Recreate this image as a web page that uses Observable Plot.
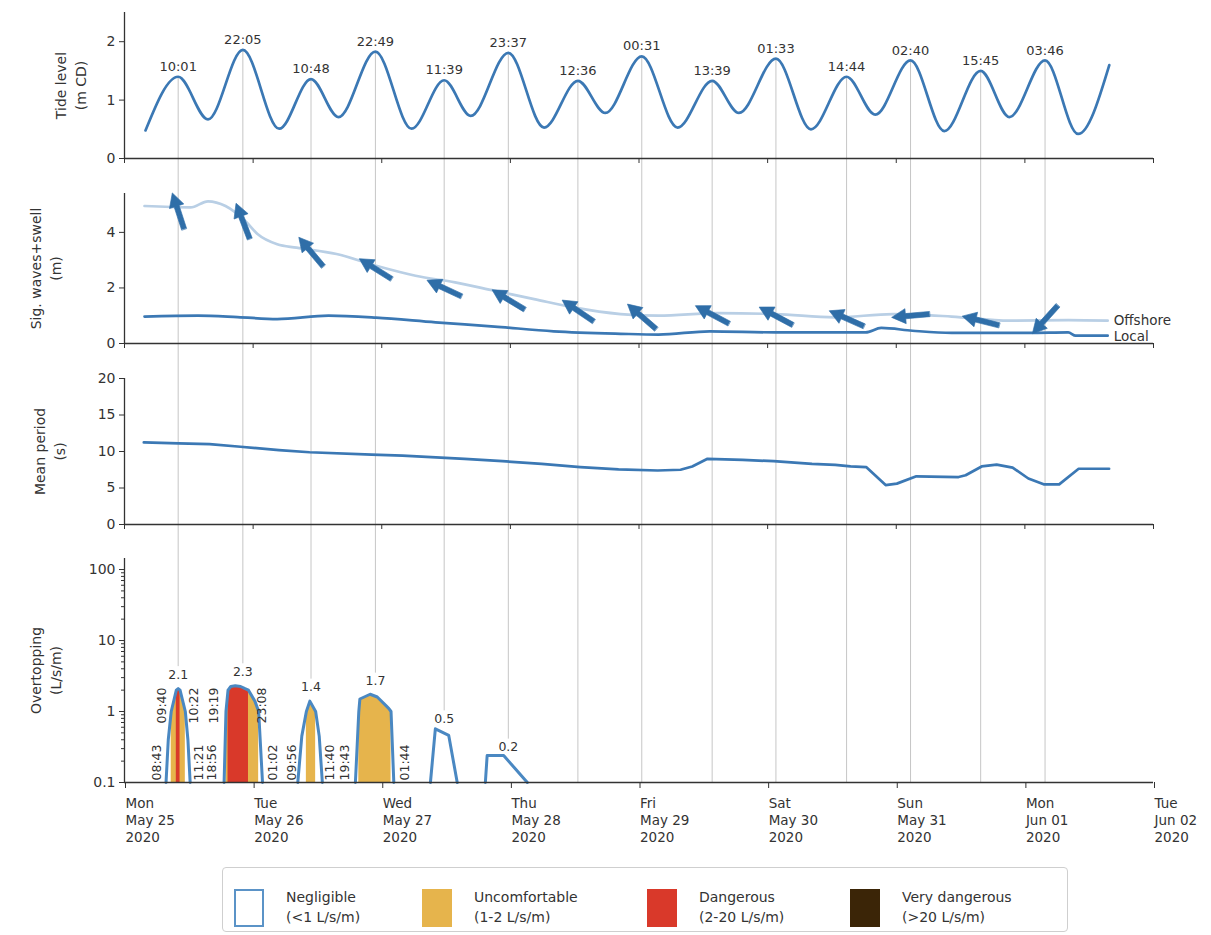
<!DOCTYPE html>
<html>
<head>
<meta charset="utf-8">
<script src="https://cdn.jsdelivr.net/npm/d3@7"></script>
<script src="https://cdn.jsdelivr.net/npm/@observablehq/plot@0.6"></script>
<style>
  body { margin: 0; background: #fff; font-family: "DejaVu Sans", sans-serif; }
  #chart { position: relative; width: 1211px; height: 935px; overflow: hidden; background: #fff; }
  #chart svg { display: block; }
  .legend { position: absolute; left: 222px; top: 867px; width: 846px; height: 65px; border: 1px solid #cfcfcf; border-radius: 4px; box-sizing: border-box; background: #fff; }
  .legend .item { position: absolute; top: 19px; }
  .legend .sw { position: absolute; left: 0; top: 2px; width: 30px; height: 38px; box-sizing: border-box; }
  .legend .tx { position: absolute; left: 52px; top: 0; font-size: 14px; line-height: 20px; color: #333; white-space: nowrap; }
</style>
</head>
<body>
<div id="chart"></div>
<script>
// ---------------- DATA ----------------
// Tide: predicted extremes (H = high tide, L = low tide)
const tideTimes = ["2020-05-25T03:55","2020-05-25T10:01","2020-05-25T15:35","2020-05-25T22:05","2020-05-26T04:52","2020-05-26T10:48","2020-05-26T15:56","2020-05-26T22:49","2020-05-27T05:34","2020-05-27T11:39","2020-05-27T16:36","2020-05-27T23:37","2020-05-28T06:17","2020-05-28T12:36","2020-05-28T17:43","2020-05-29T00:31","2020-05-29T07:12","2020-05-29T13:39","2020-05-29T18:39","2020-05-30T01:33","2020-05-30T08:05","2020-05-30T14:44","2020-05-30T20:05","2020-05-31T02:40","2020-05-31T08:58","2020-05-31T15:45","2020-05-31T21:07","2020-06-01T03:46","2020-06-01T09:56","2020-06-01T15:45"];
const tideLevels = [0.48,1.40,0.67,1.86,0.51,1.36,0.71,1.83,0.51,1.34,0.73,1.81,0.53,1.33,0.78,1.75,0.53,1.33,0.78,1.71,0.50,1.40,0.75,1.68,0.47,1.50,0.71,1.68,0.42,1.60];
const tideKind = ["","H","L","H","L","H","L","H","L","H","L","H","L","H","L","H","L","H","L","H","L","H","L","H","L","H","L","H","L",""];

// Significant wave height
const offshoreTimes = ["2020-05-25T03:44","2020-05-25T12:19","2020-05-25T15:35","2020-05-25T18:51","2020-05-25T22:35","2020-05-26T00:49","2020-05-26T04:30","2020-05-26T08:06","2020-05-26T15:34","2020-05-26T22:56","2020-05-27T06:18","2020-05-27T13:41","2020-05-27T21:03","2020-05-28T04:26","2020-05-28T11:47","2020-05-28T20:34","2020-05-29T03:39","2020-05-29T14:40","2020-05-30T01:29","2020-05-30T12:30","2020-05-30T23:20","2020-05-31T10:20","2020-05-31T21:10","2020-06-01T08:10","2020-06-01T15:27"];
const offshoreHeights = [4.95,4.90,5.12,4.95,4.40,3.94,3.57,3.45,3.22,2.80,2.44,2.20,1.90,1.60,1.30,1.06,1.00,1.09,1.06,0.94,1.06,0.97,0.82,0.84,0.82];
const localTimes = ["2020-05-25T03:44","2020-05-25T13:44","2020-05-25T21:05","2020-05-26T04:29","2020-05-26T14:04","2020-05-26T22:56","2020-05-27T10:02","2020-05-27T21:03","2020-05-28T08:04","2020-05-28T20:34","2020-05-29T03:39","2020-05-29T13:11","2020-05-30T01:29","2020-05-30T18:17","2020-05-30T21:12","2020-05-31T03:01","2020-05-31T10:20","2020-06-01T00:50","2020-06-01T08:05","2020-06-01T09:29","2020-06-01T15:27"];
const localHeights = [0.97,1.00,0.95,0.88,1.00,0.93,0.76,0.61,0.44,0.35,0.32,0.44,0.40,0.40,0.56,0.46,0.38,0.38,0.40,0.28,0.28];

// Wave direction arrows (one per high tide): height on chart and screen bearing (deg, clockwise from up)
const arrowHeights = [4.77,4.41,3.30,2.69,1.99,1.58,1.18,0.97,1.04,0.99,0.90,1.00,0.82,0.86];
const arrowAngles = [342,339,320,302,295,301,304,311,298,298,294,265,284,222];

// Mean wave period
const periodTimes = ["2020-05-25T03:36","2020-05-25T10:05","2020-05-25T15:52","2020-05-25T21:39","2020-05-26T04:49","2020-05-26T10:32","2020-05-26T22:06","2020-05-27T03:53","2020-05-27T15:27","2020-05-27T22:32","2020-05-28T05:50","2020-05-28T13:03","2020-05-28T20:11","2020-05-29T03:29","2020-05-29T07:45","2020-05-29T09:56","2020-05-29T12:47","2020-05-29T19:21","2020-05-30T01:08","2020-05-30T08:17","2020-05-30T12:37","2020-05-30T15:29","2020-05-30T18:23","2020-05-30T22:01","2020-05-31T00:07","2020-05-31T03:45","2020-05-31T11:38","2020-05-31T12:57","2020-05-31T15:56","2020-05-31T18:44","2020-05-31T21:43","2020-06-01T00:39","2020-06-01T03:30","2020-06-01T06:24","2020-06-01T10:02","2020-06-01T15:43"];
const periodValues = [11.24,11.1,11.0,10.65,10.2,9.9,9.57,9.44,9.0,8.67,8.3,7.87,7.55,7.4,7.5,7.95,9.0,8.85,8.67,8.3,8.18,7.95,7.87,5.4,5.6,6.6,6.5,6.74,7.95,8.2,7.8,6.3,5.5,5.5,7.64,7.64];

// Overtopping events (outline points)
const otEvent = [1,1,1,1,1,1,1,1,1, 2,2,2,2,2,2,2,2,2,2,2, 3,3,3,3,3,3,3, 4,4,4,4,4,4,4,4,4, 5,5,5,5, 6,6,6,6];
const otTimes = ["2020-05-25T07:45","2020-05-25T08:10","2020-05-25T08:43","2020-05-25T09:40","2020-05-25T10:01","2020-05-25T10:22","2020-05-25T11:21","2020-05-25T11:50","2020-05-25T12:15",
  "2020-05-25T18:35","2020-05-25T18:56","2020-05-25T19:19","2020-05-25T19:50","2020-05-25T20:40","2020-05-25T21:40","2020-05-25T22:30","2020-05-25T23:08","2020-05-26T00:20","2020-05-26T01:02","2020-05-26T01:45",
  "2020-05-26T08:20","2020-05-26T09:05","2020-05-26T09:56","2020-05-26T10:35","2020-05-26T11:40","2020-05-26T12:20","2020-05-26T12:55",
  "2020-05-26T19:05","2020-05-26T19:43","2020-05-26T19:55","2020-05-26T21:50","2020-05-26T23:10","2020-05-27T00:50","2020-05-27T01:20","2020-05-27T01:44","2020-05-27T02:15",
  "2020-05-27T09:05","2020-05-27T10:00","2020-05-27T12:30","2020-05-27T14:05",
  "2020-05-27T19:20","2020-05-27T19:40","2020-05-27T22:45","2020-05-28T03:10"];
const otValues = [0.1,0.4,1.0,2.0,2.1,2.0,1.0,0.4,0.1,
  0.1,1.0,2.0,2.25,2.3,2.25,2.1,2.0,1.4,1.0,0.1,
  0.1,0.45,1.0,1.4,1.0,0.45,0.1,
  0.1,1.0,1.5,1.75,1.6,1.2,1.1,1.0,0.1,
  0.1,0.57,0.46,0.1,
  0.1,0.24,0.24,0.1];

// Hazard bands within events
const bandEvent = [1,1,2,2,3,4];
const bandLevel = ["Uncomfortable","Dangerous","Uncomfortable","Dangerous","Uncomfortable","Uncomfortable"];
const bandStart = ["2020-05-25T08:43","2020-05-25T09:40","2020-05-25T18:56","2020-05-25T19:19","2020-05-26T09:56","2020-05-26T19:43"];
const bandEnd = ["2020-05-25T11:21","2020-05-25T10:22","2020-05-26T01:02","2020-05-25T23:08","2020-05-26T11:40","2020-05-27T01:44"];

// Peak overtopping per high tide (first six high tides)
const peakValues = [2.1,2.3,1.4,1.7,0.5,0.2];

// Axis ticks
const tideTicks = [0,1,2];
const waveTicks = [0,2,4];
const periodTicks = [0,5,10,15,20];
const otTicks = [0.1,1,10,100];

// Legend
const legendNames = ["Negligible","Uncomfortable","Dangerous","Very dangerous"];
const legendRanges = ["(<1 L/s/m)","(1-2 L/s/m)","(2-20 L/s/m)","(>20 L/s/m)"];
const legendColors = ["#ffffff","#e6b44c","#d9392a","#3b2507"];

// ---------------- BUILD ----------------
const P = s => new Date(s + "Z");
const xDomain = [P("2020-05-25T00:00"), P("2020-06-02T00:00")];
const days = d3.utcDay.range(xDomain[0], d3.utcDay.offset(xDomain[1], 1));
const hhmm = d3.utcFormat("%H:%M");

const tide = tideTimes.map((t, i) => ({time: P(t), level: tideLevels[i], kind: tideKind[i]}));
const high = tide.filter(d => d.kind === "H");
const arrows = high.map((d, i) => ({time: d.time, height: arrowHeights[i], angle: arrowAngles[i]}));
const offshore = offshoreTimes.map((t, i) => ({time: P(t), h: offshoreHeights[i]}));
const local = localTimes.map((t, i) => ({time: P(t), h: localHeights[i]}));
const period = periodTimes.map((t, i) => ({time: P(t), v: periodValues[i]}));
const ot = otTimes.map((t, i) => ({time: P(t), value: otValues[i], event: otEvent[i]}));
const bands = bandStart.map((s, i) => ({start: P(s), end: P(bandEnd[i]), level: bandLevel[i], event: bandEvent[i], id: i}));
const bandPts = bands.flatMap(b => ot.filter(d => d.event === b.event && d.time >= b.start && d.time <= b.end).map(d => ({...d, band: b.id, level: b.level})));
const peaks = peakValues.map((v, i) => ({time: high[i].time, value: v}));
const quiet = high.slice(peakValues.length);
const bandLabels = bands.flatMap(b => [
  {time: b.start, side: "start", level: b.level},
  {time: b.end, side: "end", level: b.level}
]);

const W = 1211, ML = 124, MR = 58;
const BLUE = "#3b78b4", LIGHT = "#b9cfe5", GRID = "#c6c6c6", AX = "#333";
const FONT = "DejaVu Sans, sans-serif";
const OTMAX = 143;

function base(h, mt, mb, y, marks) {
  return Plot.plot({
    width: W, height: h, marginLeft: ML, marginRight: MR, marginTop: mt, marginBottom: mb,
    x: {type: "utc", domain: xDomain},
    y,
    color: {domain: legendNames, range: legendColors},
    style: {fontFamily: FONT, fontSize: "14px", color: AX, background: "transparent", overflow: "visible"},
    marks
  });
}
const yTitle = (t, dx) => Plot.text([t], {frameAnchor: "left", text: d => d, rotate: -90, dx, fontSize: 14, lineHeight: 1.4, textAnchor: "middle", lineAnchor: "middle", fill: AX});
const upperX = () => Plot.axisX({ticks: days, tickSize: 5, tickFormat: () => "", label: null, stroke: AX});
const yAx = (ticks, fmt) => Plot.axisY({ticks, tickSize: 5, tickPadding: 4, tickFormat: fmt || (d => d), label: null, fontSize: 14, stroke: AX});

const fatArrow = {
  draw(ctx, l) {
    const w = 2.6, hw = 7.5, hl = 14;
    ctx.moveTo(-w, 0); ctx.lineTo(-w, -l + hl); ctx.lineTo(-hw, -l + hl); ctx.lineTo(0, -l);
    ctx.lineTo(hw, -l + hl); ctx.lineTo(w, -l + hl); ctx.lineTo(w, 0); ctx.closePath();
  }
};

const chart = document.getElementById("chart");

// Panel 1: tide
chart.append(base(175, 12, 17, {domain: [0, 2.5]}, [
  Plot.ruleX(high, {x: "time", y1: "level", y2: 0, stroke: GRID, strokeWidth: 1, insetBottom: -17}),
  Plot.ruleY([0], {stroke: AX, strokeWidth: 1.3}),
  Plot.ruleX([xDomain[0]], {stroke: AX, strokeWidth: 1.3}),
  yAx(tideTicks),
  upperX(),
  Plot.line(tide, {x: "time", y: "level", curve: "monotone-x", stroke: BLUE, strokeWidth: 2.7}),
  Plot.text(high, {x: "time", y: "level", text: d => hhmm(d.time), dy: -10, fontSize: 13, fill: AX}),
  yTitle("Tide level\n(m CD)", -55)
]));

// Panel 2: waves
let arrowMark;
try {
  arrowMark = Plot.vector(arrows, {x: "time", y: "height", rotate: "angle", length: 38, anchor: "middle", shape: fatArrow, fill: "#2f6ea8", stroke: "#2f6ea8", strokeWidth: 0.6});
} catch (e) {
  arrowMark = Plot.vector(arrows, {x: "time", y: "height", rotate: "angle", length: 38, anchor: "middle", stroke: "#2f6ea8", strokeWidth: 4});
}
const lastOff = offshore[offshore.length - 1], lastLoc = local[local.length - 1];
chart.append(base(185, 18, 17, {domain: [0, 5.4]}, [
  Plot.ruleX(high, {x: "time", stroke: GRID, strokeWidth: 1, insetTop: -18, insetBottom: -17}),
  Plot.ruleY([0], {stroke: AX, strokeWidth: 1.3}),
  Plot.ruleX([xDomain[0]], {stroke: AX, strokeWidth: 1.3}),
  yAx(waveTicks),
  upperX(),
  Plot.line(offshore, {x: "time", y: "h", curve: "monotone-x", stroke: LIGHT, strokeWidth: 2.7}),
  Plot.line(local, {x: "time", y: "h", curve: "monotone-x", stroke: BLUE, strokeWidth: 2.7}),
  arrowMark,
  Plot.text([lastOff], {x: "time", y: "h", text: () => "Offshore", textAnchor: "start", dx: 6, fontSize: 13.5, fill: AX}),
  Plot.text([lastLoc], {x: "time", y: "h", text: () => "Local", textAnchor: "start", dx: 6, dy: 1, fontSize: 13.5, fill: AX}),
  yTitle("Sig. waves+swell\n(m)", -80)
]));

// Panel 3: period
chart.append(base(181, 18, 17, {domain: [0, 20]}, [
  Plot.ruleX(high, {x: "time", stroke: GRID, strokeWidth: 1, insetTop: -18, insetBottom: -17}),
  Plot.ruleY([0], {stroke: AX, strokeWidth: 1.3}),
  Plot.ruleX([xDomain[0]], {stroke: AX, strokeWidth: 1.3}),
  yAx(periodTicks),
  upperX(),
  Plot.line(period, {x: "time", y: "v", stroke: BLUE, strokeWidth: 2.7}),
  yTitle("Mean period\n(s)", -76)
]));

// Panel 4: overtopping
const minorTicks = [];
for (const dec of [0.1, 1, 10, 100]) for (let k = 2; k <= 9; k++) { const v = dec * k; if (v < OTMAX) minorTicks.push(v); }
const rotLabel = (filterFn, dx, dy) => Plot.text(bandLabels.filter(filterFn), {x: "time", y: 0.1, text: d => hhmm(d.time), rotate: -90, textAnchor: "start", lineAnchor: "middle", dx, dy, fontSize: 12.5, fill: AX});
chart.append(base(319, 17, 78, {type: "log", domain: [0.1, OTMAX]}, [
  Plot.ruleX(peaks, {x: "time", y1: OTMAX, y2: "value", stroke: GRID, strokeWidth: 1, insetTop: -17, insetBottom: 22}),
  Plot.ruleX(quiet, {x: "time", y1: OTMAX, y2: 0.1, stroke: GRID, strokeWidth: 1, insetTop: -17}),
  Plot.areaY(bandPts.filter(d => d.level === "Uncomfortable"), {x: "time", y1: 0.1, y2: "value", z: "band", fill: "level"}),
  Plot.areaY(bandPts.filter(d => d.level === "Dangerous"), {x: "time", y1: 0.1, y2: "value", z: "band", fill: "level"}),
  Plot.line(ot, {x: "time", y: "value", z: "event", stroke: "#4a88c2", strokeWidth: 3, strokeLinejoin: "round"}),
  Plot.ruleY([0.1], {stroke: AX, strokeWidth: 1.3}),
  Plot.ruleX([xDomain[0]], {stroke: AX, strokeWidth: 1.3}),
  Plot.axisY({ticks: minorTicks, tickSize: 3, tickFormat: () => "", label: null, stroke: AX}),
  yAx(otTicks, d => String(d)),
  Plot.axisX({ticks: days, tickSize: 6, tickPadding: 8, tickFormat: d3.utcFormat("%a\n%b %d\n%Y"), textAnchor: "start", dx: 1, lineHeight: 1.25, label: null, fontSize: 13.5, stroke: AX}),
  Plot.text(peaks, {x: "time", y: "value", text: d => d.value.toFixed(1), dy: -14, fontSize: 12.5, fill: AX}),
  rotLabel(d => d.side === "start" && d.level === "Uncomfortable", -14, -2),
  rotLabel(d => d.side === "end" && d.level === "Uncomfortable", 14, -2),
  rotLabel(d => d.side === "start" && d.level === "Dangerous", -14, -59),
  rotLabel(d => d.side === "end" && d.level === "Dangerous", 14, -59),
  yTitle("Overtopping\n(L/s/m)", -80)
]));

// Legend
const legend = document.createElement("div");
legend.className = "legend";
const itemLefts = [11, 199, 424, 627];
legendNames.forEach((n, i) => {
  const it = document.createElement("div");
  it.className = "item";
  it.style.left = itemLefts[i] + "px";
  const sw = document.createElement("div");
  sw.className = "sw";
  sw.style.background = legendColors[i];
  sw.style.border = i === 0 ? "2px solid #5b93c7" : "none";
  const tx = document.createElement("div");
  tx.className = "tx";
  tx.innerHTML = n + "<br>" + legendRanges[i];
  it.append(sw, tx);
  legend.append(it);
});
chart.append(legend);
</script>
</body>
</html>
